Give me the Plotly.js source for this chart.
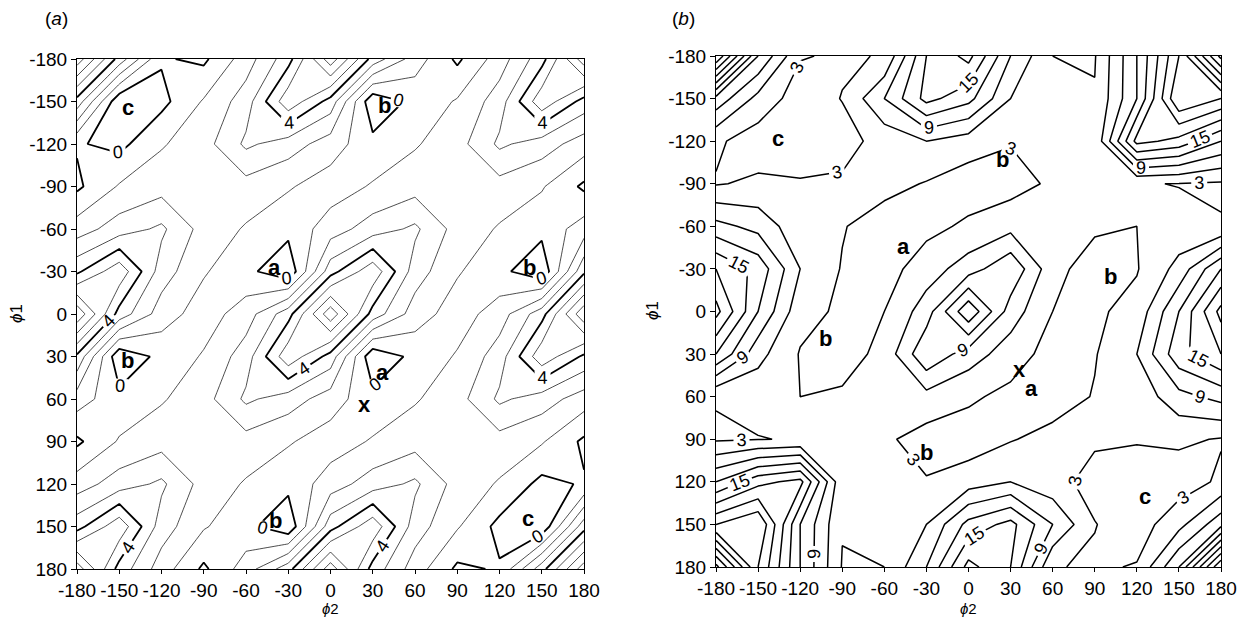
<!DOCTYPE html>
<html>
<head>
<meta charset="utf-8">
<script src="https://cdn.plot.ly/plotly-3.0.1.min.js"></script>
<style>html,body{margin:0;padding:0;background:#fff;}#chart{width:1238px;height:617px;}</style>
</head>
<body>
<div id="chart"></div>
<script>
// grid angles (degrees)
const phi2 = [-180,-150,-120,-90,-60,-30,0,30,60,90,120,150,180];
const phi1 = [-180,-150,-120,-90,-60,-30,0,30,60,90,120,150,180];
const tickVals = [-180,-150,-120,-90,-60,-30,0,30,60,90,120,150,180];
const tickText = ['-180','-150','-120','-90','-60','-30','0','30','60','90','120','150','180'];

// panel (a) energy estimates, rows = phi1, cols = phi2
const energyA = [
  [7.6, 3.6, 0.1,-0.2, 1.5, 3.6, 7.6, 3.6, 1.5,-0.2, 1.5, 3.6, 7.6],
  [3.6,-0.8,-0.3, 1.1, 2.5, 5.7, 3.6,-0.8, 0.3, 1.1, 2.5, 5.7, 3.6],
  [0.1,-0.3, 0.9, 1.6, 3.2, 2.5, 1.5, 0.3, 0.9, 1.6, 3.2, 2.5, 1.5],
  [-0.2,1.1, 1.6, 1.5, 1.6, 1.1, 0.5, 1.1, 1.6, 1.5, 1.6, 1.1,-0.2],
  [1.5, 2.5, 3.2, 1.6, 0.9, 0.3, 1.5, 2.5, 3.2, 1.6, 0.9, 0.3, 1.5],
  [3.8, 5.7, 2.5, 1.1, 0.3,-0.8, 3.6, 5.7, 2.5, 1.1, 0.3,-0.8, 3.8],
  [7.8, 3.6, 1.5, 0.5, 1.5, 3.6, 7.7, 3.6, 1.5, 0.5, 1.5, 3.6, 7.8],
  [3.8,-0.8, 0.3, 1.1, 2.5, 5.7, 3.6,-0.8, 0.3, 1.1, 2.5, 5.7, 3.8],
  [1.5, 0.3, 0.9, 1.6, 3.2, 2.5, 1.5, 0.3, 0.9, 1.6, 3.2, 2.5, 1.5],
  [-0.2,1.1, 1.6, 1.5, 1.6, 1.1, 0.5, 1.1, 1.6, 1.5, 1.6, 1.1,-0.2],
  [1.5, 2.5, 3.2, 1.6, 0.9, 0.3, 1.5, 2.5, 3.2, 1.6, 0.9,-0.3, 0.1],
  [3.6, 5.7, 2.5, 1.1, 0.3,-0.8, 3.6, 5.7, 2.5, 1.1,-0.3,-0.8, 3.6],
  [7.6, 3.6, 1.5,-0.2, 1.5, 3.6, 7.6, 3.6, 1.5,-0.2, 0.1, 3.6, 7.6]
];

// panel (b) energy estimates
const energyB = [
  [30,  12,  3.2, 2.6, 3.2, 15,  19,  9,   3,   2.8, 12,  24,  40],
  [11,  5,   1.5, 3.1, 9,   16,  13,  6,   3.8, 3.2, 12,  27,  24],
  [3.5, 1.5, 1.0, 2.0, 4,   6,   4.5, 3.2, 3.2, 3.5, 19,  17,  12],
  [2.8, 3.5, 3.3, 3.4, 4,   2.8, 1.5, 1.8, 3.5, 4.5, 3.2, 2.9, 2.6],
  [10,  8,   4,   3.2, 1.5, 2.2, 3.5, 5,   5,   3.5, 3,   4,   3.2],
  [18,  14,  6,   2.8, 1.8, 4.5, 7.5, 11.5,4,   1.5, 2.8, 7,   15],
  [22,  12,  4,   2.5, 3,   7.5, 17.5,7.5, 3,   2.5, 4,   12,  22],
  [15,  7,   2.8, 1.5, 4,   11.5,7.5, 4.5, 1.8, 2.8, 6,   14,  18],
  [3.2, 4,   3,   3.5, 5,   5,   3.5, 2.2, 1.5, 3.2, 4,   8,   10],
  [2.6, 2.9, 3.2, 4.5, 3.5, 1.8, 1.5, 2.8, 4,   3.4, 3.3, 3.5, 2.8],
  [12,  17,  19,  3.5, 3.2, 3.2, 4.5, 6,   4,   2.0, 1.0, 1.5, 3.5],
  [24,  27,  12,  3.2, 3.8, 6,   13,  16,  9,   3.1, 1.5, 5,   11],
  [40,  24,  12,  2.8, 3,   9,   19,  15,  3.2, 2.6, 3.2, 12,  30]
];

const thinLevelsA = [{start:1,end:3,size:1},{start:5,end:7,size:1}];
const thickLevelsA = {start:0,end:8,size:4};
const plainLevelsB = {start:6,end:36,size:6};
const labelLevelsB = {start:3,end:39,size:6};

const lettersA = [
  {t:'c',x:-144,y:-146},{t:'b',x:38,y:-147},{t:'a',x:-40,y:-33},{t:'b',x:141,y:-33},
  {t:'b',x:-144,y:33},{t:'a',x:37,y:41},{t:'x',x:24,y:64},{t:'b',x:-39,y:146},{t:'c',x:140,y:144}
];
const lettersB = [
  {t:'c',x:-136,y:-122},{t:'b',x:24,y:-107},{t:'a',x:-46,y:-46},{t:'b',x:101,y:-25},
  {t:'b',x:-102,y:19},{t:'x',x:36,y:41},{t:'a',x:45,y:54},{t:'b',x:-30,y:99},{t:'c',x:126,y:130}
];

const FONT = 'Liberation Sans, Arial, sans-serif';

function contourTrace(z, lev, xa, ya, width, labels) {
  return {
    type:'contour', x:phi2, y:phi1, z:z, xaxis:xa, yaxis:ya,
    autocontour:false,
    contours:{start:lev.start,end:lev.end,size:lev.size,coloring:'none',showlabels:labels,
      labelfont:{family:FONT,size:18,color:'#000'}},
    line:{color:'#000',width:width,smoothing:0},
    showscale:false, hoverinfo:'skip'
  };
}

const data = [
  contourTrace(energyA, thinLevelsA[0], 'x','y',0.7,false),
  contourTrace(energyA, thinLevelsA[1], 'x','y',0.7,false),
  contourTrace(energyA, thickLevelsA, 'x','y',1.8,true),
  contourTrace(energyB, plainLevelsB, 'x2','y2',1.5,false),
  contourTrace(energyB, labelLevelsB, 'x2','y2',1.5,true)
];

const tickFont = {family:FONT,size:19,color:'#000'};
function xAxis(domain, anchor) {
  return {domain:domain, anchor:anchor, range:[-180,180], tickmode:'array', tickvals:tickVals, ticktext:tickText,
    ticks:'outside', ticklen:4, tickcolor:'#000', showline:true, mirror:true, linecolor:'#000', linewidth:1,
    showgrid:false, zeroline:false, tickfont:tickFont, ticklabeloverflow:'allow'};
}
function yAxis(domain, anchor) {
  return {domain:domain, anchor:anchor, range:[180,-180], tickmode:'array', tickvals:tickVals, ticktext:tickText,
    ticks:'outside', ticklen:5, tickcolor:'#000', showline:true, mirror:true, linecolor:'#000', linewidth:1,
    showgrid:false, zeroline:false, tickfont:tickFont, ticklabeloverflow:'allow'};
}

const titleFont = {family:FONT,size:15,color:'#000'};
const annotations = [];
lettersA.forEach(l => annotations.push({xref:'x',yref:'y',x:l.x,y:l.y,text:'<b>'+l.t+'</b>',showarrow:false,
  font:{family:FONT,size:22,color:'#000'}}));
lettersB.forEach(l => annotations.push({xref:'x2',yref:'y2',x:l.x,y:l.y,text:'<b>'+l.t+'</b>',showarrow:false,
  font:{family:FONT,size:22,color:'#000'}}));
annotations.push({xref:'paper',yref:'paper',x:43/1238,y:1-18/617,xanchor:'left',yanchor:'middle',text:'(<i>a</i>)',showarrow:false,
  font:{family:FONT,size:19,color:'#000'}});
annotations.push({xref:'paper',yref:'paper',x:670/1238,y:1-18/617,xanchor:'left',yanchor:'middle',text:'(<i>b</i>)',showarrow:false,
  font:{family:FONT,size:19,color:'#000'}});
// axis titles
annotations.push({xref:'paper',yref:'paper',x:330/1238,y:1-608/617,xanchor:'center',yanchor:'middle',borderpad:0,text:'<i>ϕ</i>2',showarrow:false,font:titleFont});
annotations.push({xref:'paper',yref:'paper',x:968/1238,y:1-608/617,xanchor:'center',yanchor:'middle',borderpad:0,text:'<i>ϕ</i>2',showarrow:false,font:titleFont});
annotations.push({xref:'paper',yref:'paper',x:16/1238,y:1-314/617,xanchor:'center',yanchor:'middle',textangle:-90,text:'<i>ϕ</i>1',showarrow:false,font:{family:FONT,size:17,color:'#000'}});
annotations.push({xref:'paper',yref:'paper',x:652/1238,y:1-311/617,xanchor:'center',yanchor:'middle',textangle:-90,text:'<i>ϕ</i>1',showarrow:false,font:{family:FONT,size:17,color:'#000'}});

const layout = {
  width:1238, height:617, margin:{l:0,r:0,t:0,b:0}, paper_bgcolor:'#fff', plot_bgcolor:'#fff', showlegend:false,
  xaxis: xAxis([77/1238, 584/1238], 'y'),
  yaxis: yAxis([1-569/617, 1-59/617], 'x'),
  xaxis2: xAxis([716/1238, 1221/1238], 'y2'),
  yaxis2: yAxis([1-567/617, 1-56/617], 'x2'),
  annotations: annotations
};

Plotly.newPlot('chart', data, layout, {staticPlot:true, displayModeBar:false});
</script>
</body>
</html>
